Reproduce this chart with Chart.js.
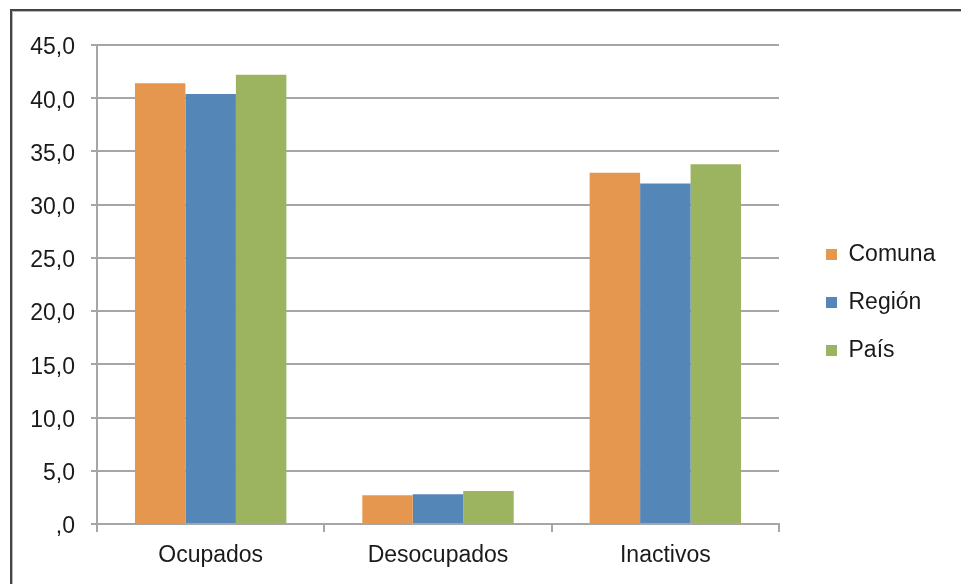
<!DOCTYPE html>
<html>
<head>
<meta charset="utf-8">
<script src="https://cdn.jsdelivr.net/npm/chart.js@4.4.0/dist/chart.umd.min.js"></script>
<style>
   html, body { margin: 0; padding: 0; background: #fff; overflow: hidden; }
   #wrap { position: relative; width: 961px; height: 584px; }
   #frame {
      position: absolute; left: 10px; top: 9px; width: 1200px; height: 900px;
      border-left: 2px solid #444; border-top: 2px solid #444;
      box-shadow: inset 1px 1px 0 #bbb;
   }
   canvas { position: absolute; left: 0; top: 0; }
</style>
</head>
<body>
<div id="wrap">
   <div id="frame"></div>
   <canvas id="chart" width="961" height="584"></canvas>
</div>
<script>
const categories = ["Ocupados", "Desocupados", "Inactivos"];
const comuna = [41.4, 2.7, 33.0];
const region = [40.4, 2.8, 32.0];
const pais = [42.2, 3.1, 33.8];
const yTickLabels = [",0", "5,0", "10,0", "15,0", "20,0", "25,0", "30,0", "35,0", "40,0", "45,0"];

const FONT = { family: "'Liberation Sans', Arial, sans-serif", size: 23 };
const GRID = "#a6a6a6";

// keep the legend a fixed width and nudge it to where the original sits
const legendPlacer = {
   id: "legendPlacer",
   beforeLayout(chart) {
      const lg = chart.legend;
      if (lg && !lg._patched) {
         const origFit = lg.fit;
         lg.fit = function () {
            origFit.call(this);
            this.width = 182;
         };
         lg._patched = true;
      }
   },
   afterLayout(chart) {
      const lg = chart.legend;
      lg.left += 22;
      lg.top -= 12;
      lg.bottom -= 12;
   }
};

const config = {
   type: "bar",
   data: {
      labels: categories,
      datasets: [
         { label: "Comuna", data: comuna, backgroundColor: "#E6974F" },
         { label: "Región", data: region, backgroundColor: "#5586B8" },
         { label: "País", data: pais, backgroundColor: "#9CB35F" }
      ]
   },
   options: {
      responsive: false,
      animation: false,
      devicePixelRatio: 1,
      categoryPercentage: 0.666,
      barPercentage: 1,
      layout: { padding: { top: 45, left: 0, right: 0, bottom: 0 } },
      plugins: {
         tooltip: { enabled: false },
         legend: {
            position: "right",
            labels: {
               boxWidth: 11,
               boxHeight: 11,
               padding: 25,
               font: FONT,
               color: "#1a1a1a"
            }
         }
      },
      scales: {
         x: {
            grid: {
               display: true,
               drawOnChartArea: false,
               drawTicks: true,
               tickLength: 8,
               color: GRID,
               lineWidth: 2,
               offset: true
            },
            border: { color: GRID, width: 2 },
            ticks: { font: FONT, color: "#1a1a1a", padding: 10, maxRotation: 0 },
            afterFit(scale) { scale.height = 60; }
         },
         y: {
            min: 0,
            max: 45,
            grid: { color: GRID, lineWidth: 2, tickLength: 6, drawTicks: true },
            border: { color: GRID, width: 2 },
            ticks: {
               stepSize: 5,
               font: FONT,
               color: "#1a1a1a",
               padding: 16,
               labelOffset: 3,
               callback: (v, i) => yTickLabels[i]
            },
            afterFit(scale) { scale.width = 97; }
         }
      }
   },
   plugins: [legendPlacer]
};

new Chart(document.getElementById("chart"), config);
</script>
</body>
</html>
